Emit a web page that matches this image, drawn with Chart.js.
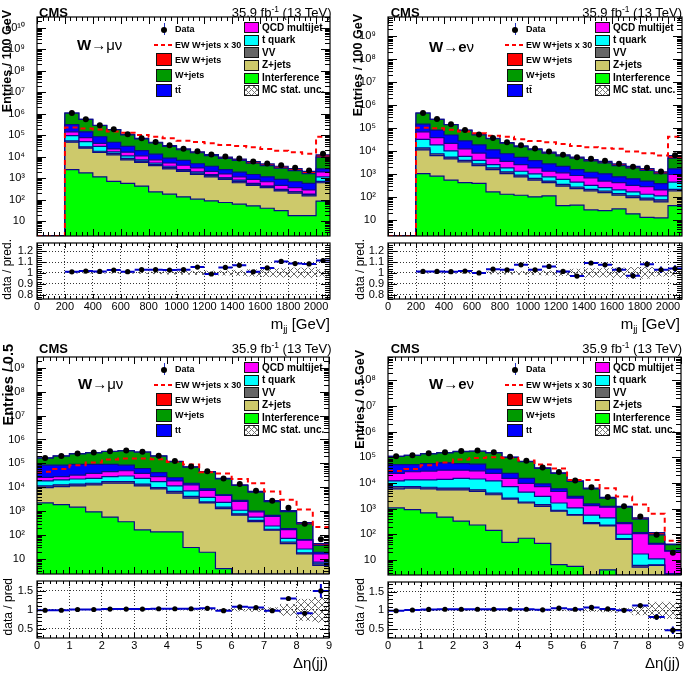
<!DOCTYPE html>
<html><head><meta charset="utf-8"><title>CMS EW W+jets control distributions</title>
<script src="https://cdn.jsdelivr.net/npm/chart.js@4.4.1/dist/chart.umd.min.js"></script>
<style>
html,body{margin:0;padding:0;background:#fff}
body{width:685px;height:674px;position:relative;overflow:hidden;font-family:"Liberation Sans",Arial,Helvetica,sans-serif;color:#000}
.t{position:absolute;white-space:nowrap;line-height:1}
.sw{position:absolute;box-sizing:border-box;border:1.5px solid #111}
sup{font-size:0.65em;vertical-align:0.5em;line-height:0}
sub{font-size:0.65em;vertical-align:-0.35em;line-height:0}
</style></head><body>
<script>
// ---------------- categories / ticks ----------------
const mjjBinLow = [0,100,200,300,400,500,600,700,800,900,1000,1100,1200,1300,1400,1500,1600,1700,1800,1900,2000];
const detaBinLow = [0,0.5,1,1.5,2,2.5,3,3.5,4,4.5,5,5.5,6,6.5,7,7.5,8,8.5];
const mjjTicks = [0,200,400,600,800,1000,1200,1400,1600,1800,2000];
const detaTicks = [0,1,2,3,4,5,6,7,8,9];
const mjjRatioTicks = [0.8,0.9,1,1.1,1.2];
const detaRatioTicks = [0.5,1,1.5];

// ---------------- W->mu nu, m_jj (cumulative stack heights) ----------------
const muMjjTotal  = [0,0,1.07e6,5.5e5,2.9e5,1.85e5,1.09e5,7.1e4,4.7e4,3.3e4,2.3e4,1.69e4,1.27e4,9.6e3,7.8e3,5.9e3,4.6e3,3.6e3,2.8e3,2.1e3,1.23e4];
const muMjjEwk    = [0,0,7.6e3,6.8e3,6.2e3,5.0e3,4.3e3,3.4e3,2.8e3,2.4e3,1.86e3,1.6e3,1.4e3,1.18e3,1.06e3,920,770,625,540,455,2.8e3];
const muMjjTtTop  = [0,0,3.1e5,1.44e5,8.5e4,4.7e4,3.0e4,1.94e4,1.32e4,8.6e3,6.7e3,4.7e3,3.6e3,2.5e3,1.9e3,1.49e3,1.16e3,875,684,574,2.7e3];
const muMjjQcdTop = [0,0,1.44e5,7.7e4,4.2e4,2.3e4,1.63e4,1.10e4,7.2e3,5.1e3,4.0e3,3.0e3,2.1e3,1.59e3,1.16e3,875,684,465,363,284,1.97e3];
const muMjjTqTop  = [0,0,9.5e4,5.0e4,3.0e4,1.69e4,1.10e4,7.2e3,5.1e3,3.6e3,2.5e3,1.97e3,1.49e3,1.04e3,817,574,433,304,230,180,1.16e3];
const muMjjVvTop  = [0,0,5.4e4,2.9e4,1.8e4,1.41e4,8.3e3,6.3e3,4.4e3,3.1e3,2.4e3,1.71e3,1.33e3,1.0e3,707,535,417,293,230,174,707];
const muMjjZjTop  = [0,0,4.7e4,2.5e4,1.57e4,1.23e4,7.2e3,5.5e3,3.85e3,2.7e3,2.1e3,1.49e3,1.16e3,875,615,465,363,255,200,151,615];
const muMjjIntTop = [0,0,2.5e3,1.77e3,1.16e3,710,574,433,230,180,136,106,89,74,62,52,40,31,18,18,86];
const muMjjData   = [0,0,1.08e6,5.59e5,2.94e5,1.9e5,1.10e5,7.31e4,4.84e4,3.39e4,2.37e4,1.78e4,1.26e4,1.01e4,8.35e3,5.96e3,4.81e3,3.98e3,3.04e3,2.27e3,1.37e4];
const muMjjRatio  = [null,null,1.01,1.017,1.014,1.026,1.011,1.03,1.03,1.026,1.03,1.054,0.99,1.05,1.07,1.01,1.046,1.106,1.086,1.083,1.114];
const muMjjRatioErr = [0,0,0.003,0.003,0.003,0.004,0.004,0.005,0.006,0.007,0.008,0.009,0.01,0.011,0.012,0.013,0.015,0.017,0.019,0.02,0.02];
const muMjjMcUnc  = [0,0,0.002,0.002,0.003,0.003,0.004,0.005,0.008,0.012,0.014,0.016,0.018,0.02,0.025,0.03,0.035,0.04,0.045,0.045,0.03];

// ---------------- W->e nu, m_jj ----------------
const eMjjTotal  = [0,0,4.6e5,2.47e5,1.46e5,8.3e4,5.4e4,3.65e4,2.38e4,1.71e4,1.27e4,9.1e3,7.0e3,5.6e3,4.3e3,3.6e3,2.8e3,2.2e3,1.76e3,1.27e3,6.4e3];
const eMjjEwk    = [0,0,3.5e3,3.3e3,2.9e3,2.4e3,2.0e3,1.58e3,1.43e3,1.1e3,935,820,695,570,500,453,424,326,276,219,1.43e3];
const eMjjTtTop  = [0,0,1.5e5,8.3e4,5.1e4,2.8e4,1.89e4,1.15e4,7.8e3,5.4e3,3.9e3,2.8e3,2.2e3,1.6e3,1.22e3,1.04e3,773,634,504,387,1.7e3];
const eMjjQcdTop = [0,0,7.0e4,3.9e4,2.22e4,1.27e4,8.3e3,5.0e3,3.6e3,2.6e3,1.88e3,1.35e3,1.15e3,881,700,504,428,328,288,207,973];
const eMjjTqTop  = [0,0,3.3e4,1.89e4,1.04e4,5.96e3,4.0e3,2.6e3,1.88e3,1.35e3,1.04e3,773,594,456,328,261,207,170,135,114,456];
const eMjjVvTop  = [0,0,1.40e4,7.8e3,5.6e3,4.0e3,2.8e3,1.88e3,1.27e3,912,656,504,362,279,221,187,144,114,91,77,221];
const eMjjZjTop  = [0,0,1.15e4,6.4e3,4.7e3,3.4e3,2.37e3,1.6e3,1.07e3,773,556,428,307,236,187,159,122,97,77,63,187];
const eMjjIntTop = [0,0,1.07e3,826,556,428,400,170,135,122,104,114,43,45,28,26,31,19,13.4,12.6,43];
const eMjjData   = [0,0,4.66e5,2.5e5,1.48e5,8.44e4,5.4e4,3.77e4,2.45e4,1.84e4,1.31e4,9.65e3,7.1e3,5.44e3,4.69e3,3.87e3,2.88e3,2.14e3,1.9e3,1.31e3,6.66e3];
const eMjjRatio  = [null,null,1.014,1.014,1.011,1.017,1.0,1.034,1.029,1.074,1.029,1.06,1.014,0.971,1.091,1.074,1.029,0.974,1.08,1.029,1.04];
const eMjjRatioErr = [0,0,0.004,0.004,0.005,0.006,0.007,0.008,0.009,0.011,0.012,0.014,0.015,0.017,0.019,0.021,0.023,0.025,0.027,0.03,0.03];
const eMjjMcUnc  = [0,0,0.003,0.003,0.004,0.005,0.006,0.01,0.012,0.015,0.018,0.02,0.025,0.035,0.04,0.04,0.045,0.05,0.05,0.03,0.03];

// ---------------- W->mu nu, delta eta(jj) ----------------
const muDetaTotal  = [1.69e5,2.05e5,2.55e5,2.81e5,3.19e5,3.40e5,2.99e5,2.05e5,1.23e5,7.2e4,4.5e4,2.37e4,1.26e4,6.7e3,2.74e3,1.06e3,328,44];
const muDetaEwk    = [1.49e3,1.92e3,2.81e3,3.62e3,4.8e3,5.3e3,5.3e3,4.97e3,3.85e3,2.99e3,1.4e3,1.27e3,741,491,222,101,39,7.2];
const muDetaTtTop  = [8.4e4,8.4e4,9.0e4,9.0e4,9.0e4,8.4e4,6.1e4,4.1e4,2.5e4,1.47e4,8.6e3,4.85e3,2.83e3,995,659,185,65,19];
const muDetaQcdTop = [2.6e4,2.78e4,3.25e4,3.8e4,4.5e4,4.9e4,3.8e4,2.78e4,1.84e4,1.26e4,7.3e3,4.56e3,2.58e3,933,600,169,61,16];
const muDetaTqTop  = [1.84e4,2.02e4,2.22e4,2.37e4,2.78e4,2.96e4,2.37e4,1.73e4,1.14e4,7.1e3,3.77e3,2.34e3,1.09e3,562,239,72,26,7.3];
const muDetaVvTop  = [1.14e4,1.26e4,1.34e4,1.47e4,1.73e4,1.73e4,1.34e4,9.7e3,6.7e3,4.14e3,2.42e3,1.46e3,773,409,174,51,18,6.2];
const muDetaZjTop  = [9.7e3,1.07e4,1.14e4,1.26e4,1.47e4,1.47e4,1.14e4,8.6e3,5.7e3,3.54e3,2.2e3,1.28e3,681,361,158,44,16,5.3];
const muDetaIntTop = [2.2e3,1.87e3,1.46e3,933,564,360,164,135,135,30,19,3.9,0,0,0,0,0,0];
const muDetaData   = [1.67e5,2.03e5,2.58e5,2.84e5,3.25e5,3.47e5,3.05e5,2.11e5,1.27e5,7.42e4,4.68e4,2.32e4,1.36e4,7.1e3,2.69e3,1.38e3,298,66];
const muDetaRatio  = [0.99,0.99,1.01,1.01,1.02,1.02,1.02,1.03,1.03,1.03,1.04,0.98,1.08,1.06,0.98,1.30,0.91,1.50];
const muDetaRatioErr = [0.003,0.003,0.003,0.003,0.003,0.003,0.003,0.003,0.004,0.005,0.006,0.008,0.012,0.015,0.022,0.035,0.06,0.18];
const muDetaMcUnc  = [0.003,0.003,0.003,0.003,0.003,0.003,0.004,0.005,0.006,0.008,0.01,0.012,0.03,0.04,0.06,0.15,0.28,0.33];

// ---------------- W->e nu, delta eta(jj) ----------------
const eDetaTotal  = [1.1e5,1.2e5,1.39e5,1.52e5,1.71e5,1.76e5,1.52e5,1.03e5,7.0e4,3.9e4,2.5e4,1.2e4,6.3e3,2.74e3,1.23e3,439,116,41];
const eDetaEwk    = [968,1.16e3,1.64e3,2.08e3,2.72e3,3.15e3,3.34e3,3.15e3,2.49e3,1.75e3,1.22e3,437,437,208,100,48,21,1.85];
const eDetaTtTop  = [5.2e4,5.2e4,5.7e4,6.1e4,5.7e4,5.4e4,3.47e4,2.36e4,1.52e4,9.2e3,5.9e3,2.99e3,1.52e3,1.23e3,282,116,44,23];
const eDetaQcdTop = [2.36e4,2.74e4,2.9e4,3.17e4,3.17e4,2.99e4,2.36e4,1.52e4,9.7e3,7.2e3,4.65e3,2.58e3,1.31e3,1.13e3,258,106,41,22];
const eDetaTqTop  = [1.2e4,1.31e4,1.31e4,1.39e4,1.52e4,1.43e4,1.2e4,7.2e3,4.39e3,2.99e3,1.66e3,1.06e3,556,439,100,17,11,2.9];
const eDetaVvTop  = [7.2e3,7.2e3,6.8e3,6.3e3,6.3e3,5.4e3,4.0e3,2.58e3,1.81e3,1.43e3,865,589,282,229,68,6.1,6.4,1];
const eDetaZjTop  = [5.9e3,6.3e3,5.9e3,5.4e3,5.4e3,4.65e3,3.47e3,2.36e3,1.66e3,1.23e3,792,556,258,210,63,5.2,6.1,1];
const eDetaIntTop = [1.06e3,912,684,468,327,230,143,48,70,44,6.6,5.6,0,4.1,0,0,0,0];
const eDetaData   = [1.09e5,1.21e5,1.43e5,1.58e5,1.78e5,1.83e5,1.58e5,1.06e5,7.28e4,3.98e4,2.65e4,1.24e4,6.8e3,2.85e3,1.23e3,496,95,19];
const eDetaRatio  = [0.99,1.01,1.025,1.03,1.03,1.03,1.03,1.03,1.03,1.015,1.06,1.03,1.08,1.04,1.0,1.13,0.82,0.47];
const eDetaRatioErr = [0.004,0.004,0.004,0.004,0.004,0.004,0.004,0.005,0.006,0.007,0.009,0.012,0.016,0.022,0.03,0.045,0.08,0.1];
const eDetaMcUnc  = [0.004,0.004,0.004,0.004,0.004,0.004,0.005,0.006,0.008,0.01,0.012,0.02,0.03,0.04,0.05,0.12,0.22,0.22];

// ---------------- styles ----------------
const COL = {ewk:'#ff0000', wj:'#009a00', tt:'#0000ff', qcd:'#ff00ff', tq:'#00ffff', vv:'#666666', zj:'#cdc96b', int:'#00ff00', edge:'#0b0b8a'};
const FONT = '"Liberation Sans", Arial, Helvetica, sans-serif';
Chart.defaults.font.family = FONT;
Chart.defaults.font.size = 11;
Chart.defaults.color = '#000';

const SUP = ['⁰','¹','²','³','⁴','⁵','⁶','⁷','⁸','⁹'];
const toSup = n => String(n).split('').map(d => SUP[+d]).join('');

const rootFrame = {
  id: 'rootFrame',
  afterDatasetsDraw(chart, args, o) {
    if (!o || !o.on) return;
    const {ctx, chartArea: a} = chart;
    const xs = chart.scales.x, ys = chart.scales.y;
    ctx.save();
    ctx.strokeStyle = '#000';
    ctx.lineWidth = 1;
    ctx.beginPath();
    const tx = (vals, len) => { for (const v of vals) { const px = Math.round(xs.getPixelForValue(v)) + 0.5; if (px < a.left - 0.1 || px > a.right + 0.6) continue; ctx.moveTo(px, a.bottom); ctx.lineTo(px, a.bottom - len); ctx.moveTo(px, a.top); ctx.lineTo(px, a.top + len); } };
    const ty = (vals, len) => { for (const v of vals) { const py = Math.round(ys.getPixelForValue(v)) + 0.5; if (py < a.top - 0.1 || py > a.bottom + 0.6) continue; ctx.moveTo(a.left, py); ctx.lineTo(a.left + len, py); ctx.moveTo(a.right, py); ctx.lineTo(a.right - len, py); } };
    tx(o.xMajor || [], o.xMajLen); tx(o.xMinor || [], o.xMinLen);
    ty(o.yMajor || [], o.yMajLen); ty(o.yMinor || [], o.yMinLen);
    ctx.stroke();
    ctx.lineWidth = 1.2;
    ctx.strokeRect(a.left, a.top, a.right - a.left, a.bottom - a.top);
    ctx.restore();
  }
};
Chart.register(rootFrame);

function makeCanvas(left, top, w, h) {
  const d = document.createElement('div');
  d.style.cssText = 'position:absolute;left:' + left + 'px;top:' + top + 'px;width:' + w + 'px;height:' + h + 'px;';
  const c = document.createElement('canvas');
  d.appendChild(c); document.body.appendChild(d);
  return c;
}
function txt(html, css) {
  const d = document.createElement('div');
  d.className = 't'; d.innerHTML = html;
  Object.assign(d.style, css);
  document.body.appendChild(d);
  return d;
}
function seq(from, to, step) {
  const out = []; const n0 = Math.ceil(from / step - 1e-9), n1 = Math.floor(to / step + 1e-9);
  for (let i = n0; i <= n1; i++) out.push(+(i * step).toFixed(6));
  return out;
}
function hatchPattern(ctx) {
  const pc = document.createElement('canvas'); pc.width = 7; pc.height = 7;
  const g = pc.getContext('2d'); g.strokeStyle = '#6a6a6a'; g.lineWidth = 1;
  g.beginPath(); g.moveTo(0, 0); g.lineTo(7, 7); g.moveTo(7, 0); g.lineTo(0, 7); g.stroke();
  return ctx.createPattern(pc, 'repeat');
}

function buildPanel(p) {
  const axisW = 37, padR = 8;
  const n = p.edges.length;
  const fl = p.yMin;
  const step = vals => {
    const pts = p.edges.map((e, i) => ({x: e, y: Math.max(vals[i], fl)}));
    pts.push({x: p.edges[n - 1] + p.bw, y: Math.max(vals[n - 1], fl)});
    return pts;
  };
  const layer = (vals, col) => ({type: 'line', data: step(vals), stepped: true, fill: 'start', backgroundColor: col, borderColor: COL.edge, borderWidth: 1.2, pointRadius: 0});
  const wjTop = p.total.map((t, i) => t - p.ewk[i]);
  const dataPts = p.edges.map((e, i) => ({x: e + p.bw / 2, y: p.data[i]})).filter(d => d.y > 0);
  const maxE = Math.floor(Math.log10(p.yMax));
  const decs = []; for (let e = 1; e <= maxE; e++) decs.push(e);
  const yMinor = [];
  for (let e = 0; e <= maxE; e++) for (let k = 2; k <= 9; k++) { const v = k * Math.pow(10, e); if (v > p.yMin && v < p.yMax) yMinor.push(v); }

  // ---- main (log) panel ----
  const mLeft = p.L - axisW, mTop = p.T - 10;
  const c1 = makeCanvas(mLeft, mTop, p.R + padR - mLeft, p.B - mTop + 1);
  new Chart(c1, {
    type: 'line',
    data: {datasets: [
      {type: 'line', data: dataPts, showLine: false, pointRadius: 3, pointBackgroundColor: '#000', pointBorderColor: '#000', pointBorderWidth: 0},
      {type: 'line', data: step(p.ewk.map(v => v * 30)), stepped: true, fill: false, borderColor: '#ff0000', borderWidth: 2, borderDash: [5, 4], pointRadius: 0},
      layer(p.int, COL.int), layer(p.zj, COL.zj), layer(p.vv, COL.vv), layer(p.tq, COL.tq),
      layer(p.qcd, COL.qcd), layer(p.tt, COL.tt), layer(wjTop, COL.wj), layer(p.total, COL.ewk)
    ]},
    options: {
      responsive: true, maintainAspectRatio: false, animation: false, events: [],
      layout: {padding: {left: 0, top: 10, right: padR, bottom: 1}},
      plugins: {legend: {display: false}, tooltip: {enabled: false},
        rootFrame: {on: true, xMajor: p.xTicks, xMinor: seq(p.xMin, p.xMax, p.xMinor), xMajLen: 7, xMinLen: 4, yMajor: decs.map(e => Math.pow(10, e)), yMinor: yMinor, yMajLen: 9, yMinLen: 5}},
      scales: {
        x: {type: 'linear', min: p.xMin, max: p.xMax, display: false, offset: false},
        y: {type: 'logarithmic', min: p.yMin, max: p.yMax, grid: {display: false}, border: {display: false},
          ticks: {autoSkip: false, padding: 4, color: '#000', font: {size: 11}, callback: v => { const e = Math.round(Math.log10(v)); return e === 1 ? '10' : '10' + toSup(e); }},
          afterBuildTicks: s => { s.ticks = decs.map(e => ({value: Math.pow(10, e)})); },
          afterFit: s => { s.width = axisW; s.paddingTop = 0; s.paddingBottom = 0; }}
      }
    }
  });

  // ---- ratio panel ----
  const rTop = p.B, xAxH = 40;
  const c2 = makeCanvas(mLeft, rTop, p.R + padR - mLeft, p.RB - rTop + xAxH);
  const pat = hatchPattern(c2.getContext('2d'));
  const rPts = [], err = [], band = [];
  p.edges.forEach((e, i) => {
    const c = e + p.bw / 2;
    if (p.mcUnc[i] > 0) band.push({x: c, y: [1 - p.mcUnc[i], 1 + p.mcUnc[i]]});
    const r = p.ratio[i];
    if (r == null) return;
    rPts.push({x: c, y: r});
    err.push({x: e, y: r}, {x: e + p.bw, y: r}, {x: e + p.bw, y: null});
    err.push({x: c, y: r - p.ratioErr[i]}, {x: c, y: r + p.ratioErr[i]}, {x: c, y: null});
  });
  new Chart(c2, {
    type: 'line',
    data: {datasets: [
      {type: 'line', data: rPts, showLine: false, pointRadius: 2.6, pointBackgroundColor: '#000', pointBorderColor: '#000', pointBorderWidth: 0},
      {type: 'line', data: err, borderColor: '#0000cc', borderWidth: 2, pointRadius: 0, spanGaps: false, fill: false},
      {type: 'bar', data: band, backgroundColor: pat, borderWidth: 0, barPercentage: 1, categoryPercentage: 1, grouped: false}
    ]},
    options: {
      responsive: true, maintainAspectRatio: false, animation: false, events: [],
      layout: {padding: {left: 0, top: 0, right: padR, bottom: 0}},
      plugins: {legend: {display: false}, tooltip: {enabled: false},
        rootFrame: {on: true, xMajor: p.xTicks, xMinor: seq(p.xMin, p.xMax, p.xMinor), xMajLen: 5, xMinLen: 3, yMajor: p.rTicks, yMinor: seq(p.rMin, p.rMax, p.rMinor), yMajLen: 9, yMinLen: 5}},
      scales: {
        x: {type: 'linear', min: p.xMin, max: p.xMax, offset: false,
          grid: {display: true, drawTicks: false, color: '#333', lineWidth: 1, offset: false},
          border: {display: false, dash: [1, 2]},
          ticks: {autoSkip: false, maxRotation: 0, minRotation: 0, padding: 1.5, color: '#000', font: {size: 11}, callback: v => String(v)},
          afterBuildTicks: s => { s.ticks = p.xTicks.map(v => ({value: v})); },
          afterFit: s => { s.height = xAxH; s.paddingLeft = 0; s.paddingRight = 0; }},
        y: {type: 'linear', min: p.rMin, max: p.rMax, beginAtZero: false,
          grid: {display: true, drawTicks: false, color: '#333', lineWidth: 1},
          border: {display: false, dash: [1, 2]},
          ticks: {autoSkip: false, padding: 4, color: '#000', font: {size: 11}, callback: v => String(+v.toFixed(2))},
          afterBuildTicks: s => { s.ticks = p.rTicks.map(v => ({value: v})); },
          afterFit: s => { s.width = axisW; s.paddingTop = 0; s.paddingBottom = 0; }}
      }
    }
  });

  // ---- texts ----
  txt('<b>CMS</b>', {left: p.cms[0] + 'px', top: p.cms[1] + 'px', fontSize: '13px', transform: 'translateY(-50%)'});
  txt('35.9 fb<sup>-1</sup> (13 TeV)', {left: p.lumiR + 'px', top: p.cms[1] + 'px', fontSize: '13px', transform: 'translate(-100%,-50%)'});
  txt(p.chanHtml, {left: p.wlab[0] + 'px', top: p.wlab[1] + 'px', fontSize: '15px', transform: 'translateY(-50%)'});
  txt(p.yTitle, {left: p.yT[0] + 'px', top: p.yT[1] + 'px', fontSize: p.yTsize + 'px', fontWeight: 'bold', transformOrigin: '0 0', transform: 'rotate(-90deg) translate(-100%,-50%)'});
  txt(p.rTitle, {left: p.rT[0] + 'px', top: p.rT[1] + 'px', fontSize: '12px', transformOrigin: '0 0', transform: 'rotate(-90deg) translate(-100%,-50%)'});
  txt(p.xTitle, {left: p.xT[0] + 'px', top: p.xT[1] + 'px', fontSize: '15px', transform: 'translate(-100%,-50%)'});

  // ---- legend ----
  const L = p.L, T = p.T;
  const lRows = [12.3, 27.8, 42.8, 58.1, 73.4], rRows = [10.8, 23, 35.5, 48.3, 61, 73.3];
  const lbx = L + 119, ltx = L + 138, rbx = L + 207, rtx = L + 225;
  const dy = T + lRows[0];
  const vline = document.createElement('div');
  vline.style.cssText = 'position:absolute;left:' + (lbx + 7.5) + 'px;top:' + (dy - 6) + 'px;width:1px;height:12px;background:#2030c0;';
  document.body.appendChild(vline);
  const dot = document.createElement('div');
  dot.style.cssText = 'position:absolute;left:' + (lbx + 5) + 'px;top:' + (dy - 2.8) + 'px;width:6px;height:6px;border-radius:50%;background:#000;';
  document.body.appendChild(dot);
  const dash = document.createElement('div');
  dash.style.cssText = 'position:absolute;left:' + (lbx - 2) + 'px;top:' + (T + lRows[1] - 1) + 'px;width:19px;height:2px;background:repeating-linear-gradient(90deg,#ff0000 0 4px,transparent 4px 7px);';
  document.body.appendChild(dash);
  const swatch = (x, y, w, h, bg) => { const s = document.createElement('div'); s.className = 'sw'; s.style.left = x + 'px'; s.style.top = (y - h / 2) + 'px'; s.style.width = w + 'px'; s.style.height = h + 'px'; s.style.background = bg; document.body.appendChild(s); return s; };
  swatch(lbx, T + lRows[2], 16, 13, COL.ewk);
  swatch(lbx, T + lRows[3], 16, 13, COL.wj);
  swatch(lbx, T + lRows[4], 16, 13, COL.tt);
  const lLab = ['Data', 'EW W+jets x 30', 'EW W+jets', 'W+jets', p.ttLabel];
  lLab.forEach((s, i) => txt(s, {left: ltx + 'px', top: (T + lRows[i]) + 'px', fontSize: '9px', fontWeight: 'bold', transform: 'translateY(-50%)'}));
  const rCols = [COL.qcd, COL.tq, COL.vv, COL.zj, COL.int, '#fff'];
  let lastSw = null;
  rCols.forEach((c, i) => { lastSw = swatch(rbx, T + rRows[i], 15, 11, c); });
  lastSw.style.backgroundImage = 'repeating-linear-gradient(45deg,#777 0 0.9px,transparent 0.9px 4px),repeating-linear-gradient(-45deg,#777 0 0.9px,transparent 0.9px 4px)';
  lastSw.style.backgroundColor = '#fff';
  const rLab = ['QCD multijet', 't quark', 'VV', 'Z+jets', 'Interference', 'MC stat. unc.'];
  rLab.forEach((s, i) => txt(s, {left: rtx + 'px', top: (T + rRows[i]) + 'px', fontSize: '10px', fontWeight: 'bold', transform: 'translateY(-50%)'}));
}

const muHtml = '<b>W</b>→μν';
const eHtml = '<b>W</b>→<b>e</b>ν';

buildPanel({L: 37, R: 330, T: 17, B: 239, RB: 299, xMin: 0, xMax: 2100, edges: mjjBinLow, bw: 100, xTicks: mjjTicks, xMinor: 40,
  yMin: 2.05, yMax: 3.16e10, rMin: 0.76, rMax: 1.275, rTicks: mjjRatioTicks, rMinor: 0.02,
  total: muMjjTotal, ewk: muMjjEwk, tt: muMjjTtTop, qcd: muMjjQcdTop, tq: muMjjTqTop, vv: muMjjVvTop, zj: muMjjZjTop, int: muMjjIntTop,
  data: muMjjData, ratio: muMjjRatio, ratioErr: muMjjRatioErr, mcUnc: muMjjMcUnc,
  cms: [39, 11.7], lumiR: 331.5, wlab: [77, 43.5], chanHtml: muHtml, ttLabel: 'tt̄',
  yTitle: 'Entries / 100 GeV', yT: [7, 10], yTsize: 12.5, rTitle: 'data / pred.', rT: [7, 239], xTitle: 'm<sub>jj</sub> [GeV]', xT: [330, 323]});

buildPanel({L: 388, R: 682, T: 17, B: 239, RB: 299, xMin: 0, xMax: 2100, edges: mjjBinLow, bw: 100, xTicks: mjjTicks, xMinor: 40,
  yMin: 2.06, yMax: 6.9e9, rMin: 0.76, rMax: 1.275, rTicks: mjjRatioTicks, rMinor: 0.02,
  total: eMjjTotal, ewk: eMjjEwk, tt: eMjjTtTop, qcd: eMjjQcdTop, tq: eMjjTqTop, vv: eMjjVvTop, zj: eMjjZjTop, int: eMjjIntTop,
  data: eMjjData, ratio: eMjjRatio, ratioErr: eMjjRatioErr, mcUnc: eMjjMcUnc,
  cms: [390.7, 11.7], lumiR: 682, wlab: [429, 46], chanHtml: eHtml, ttLabel: 'tt̄',
  yTitle: 'Entries / 100 GeV', yT: [358, 14], yTsize: 12.5, rTitle: 'data / pred.', rT: [360, 239], xTitle: 'm<sub>jj</sub> [GeV]', xT: [680, 323]});

buildPanel({L: 37, R: 329, T: 357, B: 577, RB: 638, xMin: 0, xMax: 9, edges: detaBinLow, bw: 0.5, xTicks: detaTicks, xMinor: 0.2,
  yMin: 2.33, yMax: 2.85e9, rMin: 0.26, rMax: 1.76, rTicks: detaRatioTicks, rMinor: 0.1,
  total: muDetaTotal, ewk: muDetaEwk, tt: muDetaTtTop, qcd: muDetaQcdTop, tq: muDetaTqTop, vv: muDetaVvTop, zj: muDetaZjTop, int: muDetaIntTop,
  data: muDetaData, ratio: muDetaRatio, ratioErr: muDetaRatioErr, mcUnc: muDetaMcUnc,
  cms: [39, 348.3], lumiR: 331.5, wlab: [78, 383.3], chanHtml: muHtml, ttLabel: 'tt',
  yTitle: 'Entries / 0.5', yT: [8, 344], yTsize: 14.5, rTitle: 'data / pred', rT: [8, 578], xTitle: 'Δη(jj)', xT: [328, 661.7]});

buildPanel({L: 388, R: 681, T: 357, B: 578, RB: 638, xMin: 0, xMax: 9, edges: detaBinLow, bw: 0.5, xTicks: detaTicks, xMinor: 0.2,
  yMin: 2.58, yMax: 8.17e8, rMin: 0.26, rMax: 1.76, rTicks: detaRatioTicks, rMinor: 0.1,
  total: eDetaTotal, ewk: eDetaEwk, tt: eDetaTtTop, qcd: eDetaQcdTop, tq: eDetaTqTop, vv: eDetaVvTop, zj: eDetaZjTop, int: eDetaIntTop,
  data: eDetaData, ratio: eDetaRatio, ratioErr: eDetaRatioErr, mcUnc: eDetaMcUnc,
  cms: [390.7, 348.3], lumiR: 682, wlab: [429, 383], chanHtml: eHtml, ttLabel: 'tt',
  yTitle: 'Entries / 0.5 GeV', yT: [360, 350], yTsize: 12.5, rTitle: 'data / pred', rT: [360, 578], xTitle: 'Δη(jj)', xT: [680, 662]});
</script>
</body></html>
